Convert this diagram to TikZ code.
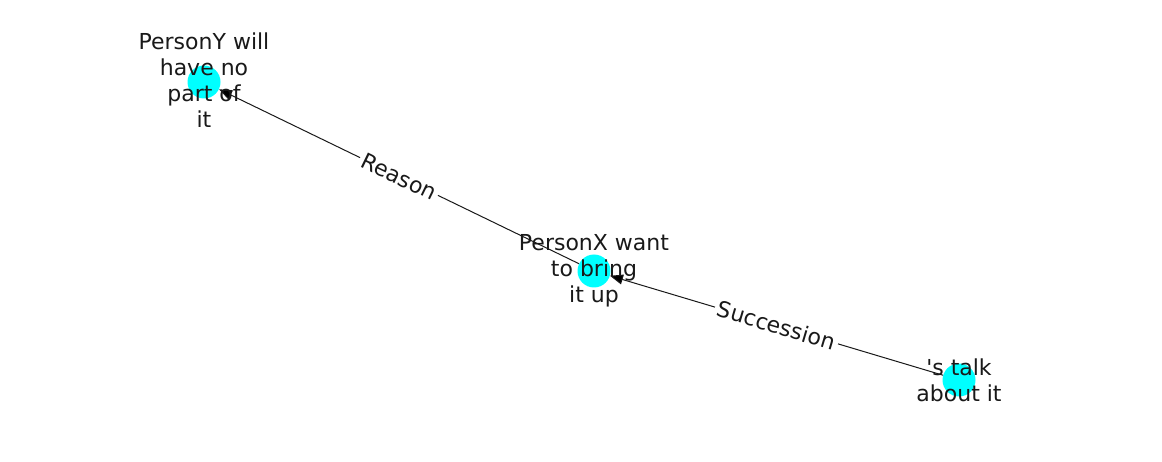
\documentclass[tikz,border=0pt]{standalone}
\usepackage{fontspec}
\newfontfamily\entfont{DejaVu Sans}
\usetikzlibrary{arrows.meta}
\definecolor{entcyan}{RGB}{0,255,255}
\begin{document}
\begin{tikzpicture}[x=1pt,y=-1pt,>={Triangle[length=13pt,width=10pt]},
        ent node/.style={circle,fill=entcyan,minimum size=33pt,inner sep=0pt},
        ent text/.style={text=black!90,align=center,font=\entfont\fontsize{22}{26}\selectfont}]
        \useasboundingbox (0,0) rectangle (1162,462);
        \node[ent node] (y) at (204,82) {};
        \node[ent node] (x) at (594,271) {};
        \node[ent node] (t) at (959,380) {};
        \path[->,draw=black!90,line width=1pt,every node/.style={ent text,sloped,fill=white,inner sep=3pt}]
        (x) edge node {Reason} (y)
        (t) edge node {Succession} (x);
        \node[ent text] (ty) at (204,80) {PersonY will\\have no\\part of\\it};
        \node[ent text] (tx) at (x) {PersonX want\\to bring\\it up};
        \node[ent text] (tt) at (t) {'s talk\\about it};
    \end{tikzpicture}
\end{document}
